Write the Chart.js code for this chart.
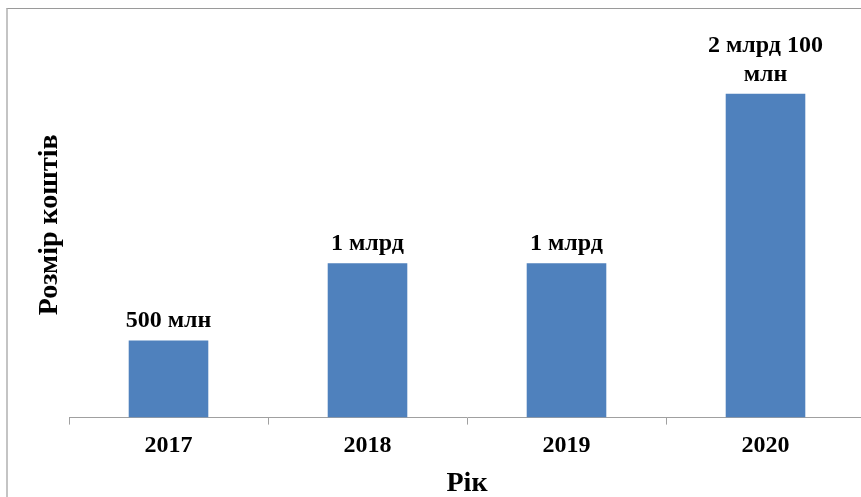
<!DOCTYPE html>
<html>
<head>
<meta charset="utf-8">
<script src="https://cdn.jsdelivr.net/npm/chart.js@4"></script>
<style>
  html, body { margin: 0; padding: 0; width: 861px; height: 497px; overflow: hidden; background: #fff; }
  #frame { position: absolute; left: 6px; top: 8px; width: 900px; height: 520px;
           border-top: 1px solid #9a9a9a; border-left: 2px solid #c4c4c4; }
  #grafico { position: absolute; left: 0; top: 0; }
</style>
</head>
<body>
<div id="frame"></div>
<canvas id="grafico" width="880" height="508"></canvas>
<script>
const years = ['2017', '2018', '2019', '2020'];
const amounts = [0.5, 1, 1, 2.1];   // млрд
const valueLabels = ['500 млн', '1 млрд', '1 млрд', '2 млрд 100\nмлн'];

const ctx = document.getElementById('grafico').getContext('2d');

// подписи значений над столбцами
const barLabels = {
    id: 'barLabels',
    afterDatasetsDraw(chart){
        const c = chart.ctx;
        const meta = chart.getDatasetMeta(0);
        c.save();
        c.font = 'bold 24px "Liberation Serif"';
        c.fillStyle = '#000';
        c.textAlign = 'center';
        c.textBaseline = 'alphabetic';
        meta.data.forEach((bar, i) =>{
            const lines = valueLabels[i].split('\n');
            lines.forEach((t, k) =>{
                const y = bar.y - 13 - (lines.length - 1 - k) * 29;
                c.fillText(t, bar.x, y);
            });
        });
        c.restore();
    }
};

new Chart(ctx, {
    type: 'bar',
    data: {
        labels: years,
        datasets: [{
            data: amounts,
            backgroundColor: '#4f81bd',
            categoryPercentage: 0.8,
            barPercentage: 0.5
        }]
    },
    options: {
        responsive: false,
        animation: false,
        layout: { padding: { top: 32, right: 15, bottom: 3, left: 0 } },
        plugins: { legend: { display: false }, tooltip: { enabled: false } },
        scales: {
            x: {
                grid: { drawOnChartArea: false, drawTicks: true, tickLength: 7, color: '#a0a0a0' },
                border: { color: '#a0a0a0', width: 1 },
                ticks: { color: '#000', padding: 7, font: { family: 'Liberation Serif', size: 24, weight: 'bold' } },
                title: { display: true, text: 'Рік', color: '#000', padding: { top: 0, bottom: 4 },
                         font: { family: 'Liberation Serif', size: 28, weight: 'bold' } }
            },
            y: {
                min: 0,
                max: 2.5,
                grid: { display: false },
                border: { display: false },
                ticks: { display: false },
                title: { display: true, text: 'Розмір коштів', color: '#000', padding: { top: 33, bottom: 0 },
                         font: { family: 'Liberation Serif', size: 28, weight: 'bold' } },
                afterFit(s){ s.width = 69; }
            }
        }
    },
    plugins: [barLabels]
});
</script>
</body>
</html>
